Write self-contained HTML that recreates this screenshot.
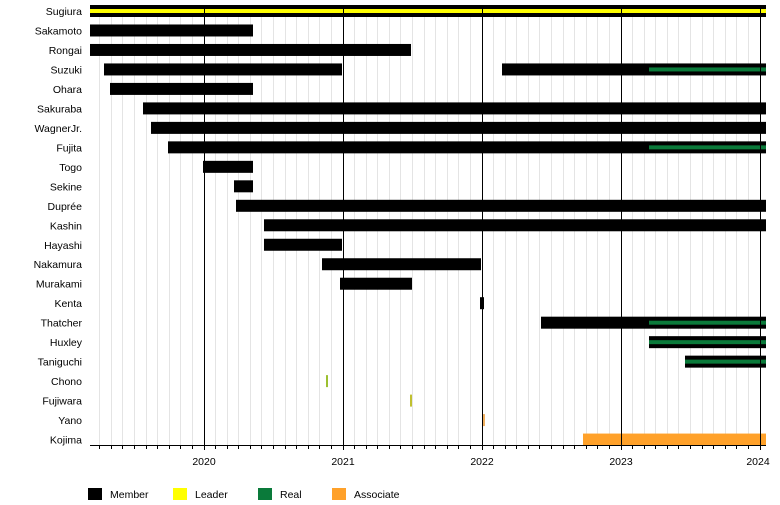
<!DOCTYPE html>
<html><head><meta charset="utf-8"><style>
html,body{margin:0;padding:0;background:#fff}
svg{display:block;font-family:"Liberation Sans",sans-serif}
</style></head><body>
<svg width="780" height="505" xmlns="http://www.w3.org/2000/svg">
<g id="grid" stroke="#e4e4e4" stroke-width="1"></g>
<g id="bars"></g>
<g id="axis"></g>
<g font-size="10.5" fill="#000" text-anchor="middle">
<text x="204" y="465">2020</text><text x="343" y="465">2021</text><text x="482" y="465">2022</text><text x="621" y="465">2023</text><text x="758" y="465">2024</text>
</g>
<g font-size="10.5">
<rect x="88" y="488" width="14" height="12" fill="#000"/><text x="110" y="498">Member</text>
<rect x="173" y="488" width="14" height="12" fill="#ffff00"/><text x="195" y="498">Leader</text>
<rect x="258" y="488" width="14" height="12" fill="#0a7a3a"/><text x="280" y="498">Real</text>
<rect x="332" y="488" width="14" height="12" fill="#ffa12a"/><text x="354" y="498">Associate</text>
</g>
<g id="labels" font-size="10.5" text-anchor="end"></g>
<script>
const NS="http://www.w3.org/2000/svg";
function el(p,t,a,txt){const e=document.createElementNS(NS,t);for(const k in a)e.setAttribute(k,a[k]);if(txt)e.textContent=txt;document.getElementById(p).appendChild(e);return e;}
for(let m=-10;m<=48;m++){const x=Math.round(203.5+139*m/12)+0.5;if(x<90||x>766)continue;
 if(m%12===0){el('axis','line',{x1:x,x2:x,y1:5,y2:450,stroke:'#000','stroke-width':1});}
 else{el('grid','line',{x1:x,x2:x,y1:5,y2:445});el('axis','line',{x1:x,x2:x,y1:445,y2:449,stroke:'#000'});}
}
el('axis','line',{x1:90,x2:766,y1:445.5,y2:445.5,stroke:'#000'});
const rows=[
["Sugiura",[[90,766,'k']],[[90,766,'#ffff00']]],
["Sakamoto",[[90,253,'k']]],
["Rongai",[[90,411,'k']]],
["Suzuki",[[104,342,'k'],[502,766,'k']],[[649,766,'#0a7a3a']]],
["Ohara",[[110,253,'k']]],
["Sakuraba",[[143,766,'k']]],
["WagnerJr.",[[151,766,'k']]],
["Fujita",[[168,766,'k']],[[649,766,'#0a7a3a']]],
["Togo",[[203,253,'k']]],
["Sekine",[[234,253,'k']]],
["Duprée",[[236,766,'k']]],
["Kashin",[[264,766,'k']]],
["Hayashi",[[264,342,'k']]],
["Nakamura",[[322,481,'k']]],
["Murakami",[[340,412,'k']]],
["Kenta",[[480,484,'k']]],
["Thatcher",[[541,766,'k']],[[649,766,'#0a7a3a']]],
["Huxley",[[649,766,'k']],[[649,766,'#0a7a3a']]],
["Taniguchi",[[685,766,'k']],[[685,766,'#0a7a3a']]],
["Chono",[[326,328,'#9cc030']]],
["Fujiwara",[[410,412,'#c0c030']]],
["Yano",[[483,485,'#f0b060']]],
["Kojima",[[583,766,'#ffa12a']]]];
rows.forEach((r,i)=>{const c=11+i*19.48;
 el('labels','text',{x:82,y:c+4},r[0]);
 r[1].forEach(b=>el('bars','rect',{x:b[0],y:c-6,width:b[1]-b[0],height:12,fill:b[2]==='k'?'#000':b[2]}));
 (r[2]||[]).forEach(b=>el('bars','rect',{x:b[0],y:c-2,width:b[1]-b[0],height:4,fill:b[2]}));
});
</script>
</svg>
</body></html>
